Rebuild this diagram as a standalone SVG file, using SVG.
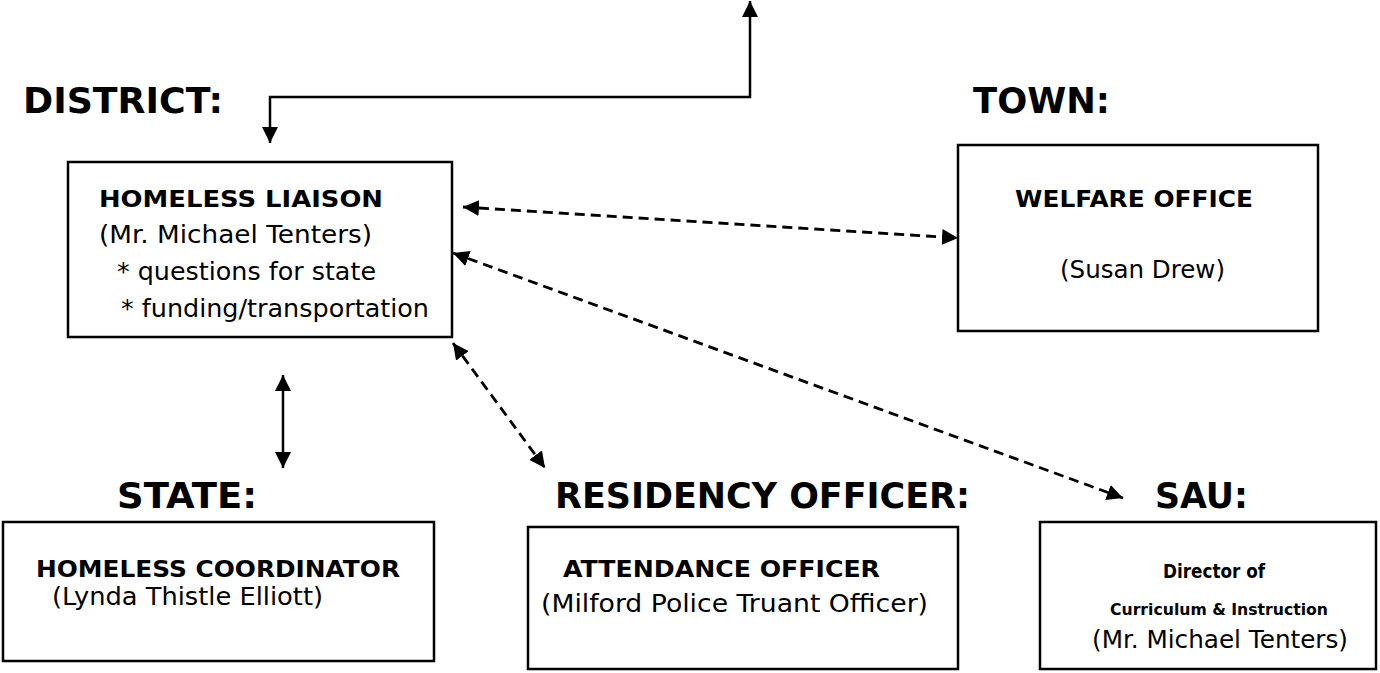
<svg xmlns="http://www.w3.org/2000/svg" width="1380" height="673" viewBox="0 0 1380 673">
<style>
text{font-family:"DejaVu Sans","Liberation Sans",sans-serif;fill:#000}
.h{font-size:36px;font-weight:bold}
.t{font-size:23px;font-weight:bold}
.s{font-size:24px}
.box{fill:#fff;stroke:#000;stroke-width:2.5}
.solid{fill:none;stroke:#000;stroke-width:2.5}
.dash{fill:none;stroke:#000;stroke-width:2.8;stroke-dasharray:10 6}
</style>
<defs>
<marker id="ah" viewBox="0 0 10 10" refX="10" refY="5" markerUnits="userSpaceOnUse" markerWidth="16" markerHeight="16" orient="auto-start-reverse">
<path d="M0,0 L10,5 L0,10 z" fill="#000"/>
</marker>
</defs>
<rect width="1380" height="673" fill="#fff"/>
<g id="headings">
<text class="h" x="23" y="113" textLength="200" lengthAdjust="spacingAndGlyphs">DISTRICT:</text>
<text class="h" x="973" y="113" textLength="137" lengthAdjust="spacingAndGlyphs">TOWN:</text>
<text class="h" x="117" y="508" textLength="140" lengthAdjust="spacingAndGlyphs">STATE:</text>
<text class="h" x="555" y="508" textLength="415" lengthAdjust="spacingAndGlyphs">RESIDENCY OFFICER:</text>
<text class="h" x="1155" y="508" textLength="93" lengthAdjust="spacingAndGlyphs">SAU:</text>
</g>
<g id="liaison">
<rect class="box" x="68" y="162" width="384" height="175"/>
<text class="t" x="99" y="207" textLength="284" lengthAdjust="spacingAndGlyphs">HOMELESS LIAISON</text>
<text class="s" x="99" y="243" textLength="273" lengthAdjust="spacingAndGlyphs">(Mr. Michael Tenters)</text>
<text class="s" x="117" y="280" textLength="259" lengthAdjust="spacingAndGlyphs">* questions for state</text>
<text class="s" x="121" y="317" textLength="308" lengthAdjust="spacingAndGlyphs">* funding/transportation</text>
</g>
<g id="welfare">
<rect class="box" x="958" y="145" width="360" height="186"/>
<text class="t" x="1015" y="207" textLength="238" lengthAdjust="spacingAndGlyphs">WELFARE OFFICE</text>
<text class="s" x="1060" y="278" textLength="165" lengthAdjust="spacingAndGlyphs">(Susan Drew)</text>
</g>
<g id="coordinator">
<rect class="box" x="3" y="522" width="431" height="139"/>
<text class="t" x="36" y="577" textLength="364" lengthAdjust="spacingAndGlyphs">HOMELESS COORDINATOR</text>
<text class="s" x="52" y="605" textLength="271" lengthAdjust="spacingAndGlyphs">(Lynda Thistle Elliott)</text>
</g>
<g id="attendance">
<rect class="box" x="528" y="527" width="430" height="142"/>
<text class="t" x="563" y="577" textLength="317" lengthAdjust="spacingAndGlyphs">ATTENDANCE OFFICER</text>
<text class="s" x="541" y="612" textLength="387" lengthAdjust="spacingAndGlyphs">(Milford Police Truant Officer)</text>
</g>
<g id="sau">
<rect class="box" x="1040" y="522" width="336" height="147"/>
<text x="1163" y="578" style="font-size:20px;font-weight:bold" textLength="102" lengthAdjust="spacingAndGlyphs">Director of</text>
<text x="1110" y="615" style="font-size:16px;font-weight:bold" textLength="218" lengthAdjust="spacingAndGlyphs">Curriculum &amp; Instruction</text>
<text class="s" x="1092" y="648" textLength="256" lengthAdjust="spacingAndGlyphs">(Mr. Michael Tenters)</text>
</g>
<g id="connectors">
<path class="solid" d="M270,143 V97 H750 V1" marker-start="url(#ah)" marker-end="url(#ah)"/>
<path class="solid" d="M283,375 V468" marker-start="url(#ah)" marker-end="url(#ah)"/>
<path class="dash" d="M463,207 L958,238" marker-start="url(#ah)" marker-end="url(#ah)"/>
<path class="dash" d="M453,253 L1123,498" marker-start="url(#ah)" marker-end="url(#ah)"/>
<path class="dash" d="M453,343 L545,468" marker-start="url(#ah)" marker-end="url(#ah)"/>
</g>
</svg>
